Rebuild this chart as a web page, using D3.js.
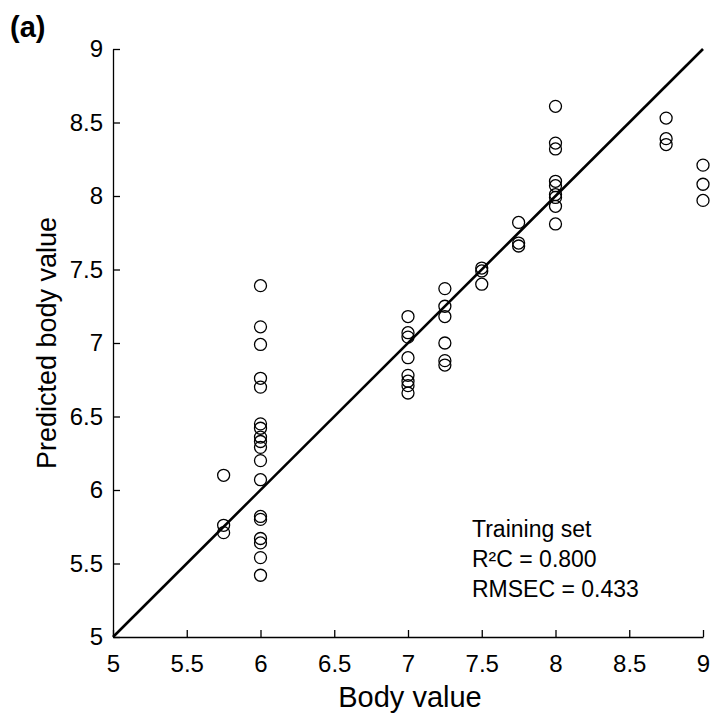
<!DOCTYPE html>
<html>
<head>
<meta charset="utf-8">
<script src="https://cdn.jsdelivr.net/npm/d3@7"></script>
<style>
  body { margin: 0; background: #fff; }
  text { font-family: "Liberation Sans", Arial, sans-serif; fill: #000; }
</style>
</head>
<body>
<div id="chart"></div>
<script>
(function() {
  // measured (body value) and predicted values, one array per group
  const bodyValues = [5.75, 6, 7, 7.25, 7.5, 7.75, 8, 8.75, 9];
  const predicted = [
    [6.10, 5.76, 5.71],
    [7.39, 7.11, 6.99, 6.76, 6.70, 6.45, 6.42, 6.36, 6.33, 6.29, 6.20, 6.07,
     5.82, 5.80, 5.67, 5.64, 5.54, 5.42],
    [7.18, 7.07, 7.04, 6.90, 6.78, 6.74, 6.71, 6.66],
    [7.37, 7.25, 7.18, 7.00, 6.88, 6.85],
    [7.51, 7.49, 7.40],
    [7.82, 7.68, 7.66],
    [8.61, 8.36, 8.32, 8.10, 8.07, 8.01, 7.99, 7.93, 7.81],
    [8.53, 8.39, 8.35],
    [8.21, 8.08, 7.97]
  ];
  const tickValues = [5, 5.5, 6, 6.5, 7, 7.5, 8, 8.5, 9];
  const statsLines = ['Training set', 'R\u00b2C = 0.800', 'RMSEC = 0.433'];

  const points = [];
  bodyValues.forEach((bv, i) => predicted[i].forEach(p => points.push({ x: bv, y: p })));

  const margin = { top: 49, left: 113, right: 11, bottom: 81 },
    width = 714 - margin.left - margin.right,
    height = 718 - margin.top - margin.bottom;

  const svg = d3.select('#chart')
    .append('svg')
      .attr('width', 714)
      .attr('height', 718);

  const g = svg.append('g')
    .attr('transform', `translate(${margin.left},${margin.top})`);

  const x = d3.scaleLinear().domain([5, 9]).range([0, width]);
  const y = d3.scaleLinear().domain([5, 9]).range([height, 0]);

  // axes with inward ticks
  const xAxis = g.append('g')
    .attr('transform', `translate(0,${height})`)
    .call(d3.axisBottom(x).tickValues(tickValues).tickFormat(d3.format('')).tickSizeInner(-7).tickSizeOuter(0).tickPadding(18));

  const yAxis = g.append('g')
    .call(d3.axisLeft(y).tickValues(tickValues).tickFormat(d3.format('')).tickSizeInner(-7).tickSizeOuter(0).tickPadding(10));

  [xAxis, yAxis].forEach(ax => {
    ax.select('.domain').attr('stroke', '#000').attr('stroke-width', 1.3);
    ax.selectAll('.tick line').attr('stroke', '#000').attr('stroke-width', 1.3);
    ax.selectAll('.tick text')
      .style('font-family', '"Liberation Sans", Arial, sans-serif')
      .style('font-size', '24px')
      .attr('fill', '#000');
  });

  // 1:1 line
  g.append('line')
    .attr('x1', x(5)).attr('y1', y(5))
    .attr('x2', x(9)).attr('y2', y(9))
    .attr('stroke', '#000')
    .attr('stroke-width', 2.6);

  // points
  g.selectAll('.pt')
    .data(points)
    .enter().append('circle')
      .attr('class', 'pt')
      .attr('cx', d => x(d.x))
      .attr('cy', d => y(d.y))
      .attr('r', 6)
      .attr('fill', 'none')
      .attr('stroke', '#000')
      .attr('stroke-width', 1.3);

  // stats text
  g.selectAll('.stat')
    .data(statsLines)
    .enter().append('text')
      .attr('class', 'stat')
      .attr('x', 472 - margin.left)
      .attr('y', (d, i) => 537 - margin.top + i * 30)
      .style('font-size', '23px')
      .text(d => d);

  // axis titles
  svg.append('text')
    .attr('x', 410)
    .attr('y', 707)
    .attr('text-anchor', 'middle')
    .style('font-size', '29px')
    .text('Body value');

  svg.append('text')
    .attr('transform', `translate(56,${margin.top + height / 2}) rotate(-90)`)
    .attr('text-anchor', 'middle')
    .style('font-size', '27px')
    .text('Predicted body value');

  svg.append('text')
    .attr('x', 10)
    .attr('y', 37)
    .style('font-size', '29px')
    .style('font-weight', 'bold')
    .text('(a)');
})();
</script>
</body>
</html>
